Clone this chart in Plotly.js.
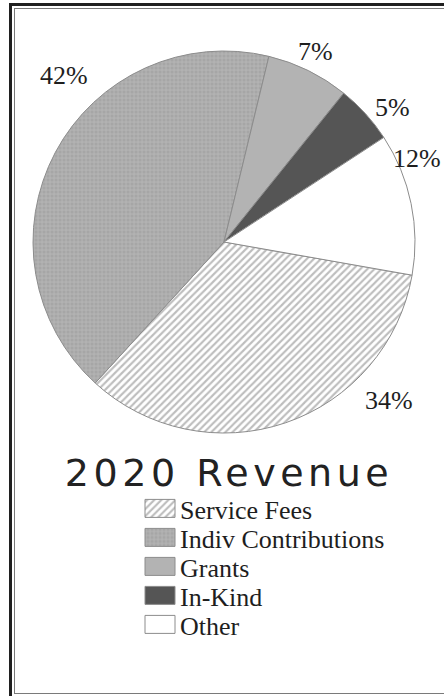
<!DOCTYPE html>
<html>
<head>
<meta charset="utf-8">
<script src="https://cdn.plot.ly/plotly-3.0.1.min.js"></script>
<style>
  html, body { margin: 0; padding: 0; background: #fff; overflow: hidden; }
  #wrap { position: relative; width: 444px; height: 696px; overflow: hidden; }
  #chart { width: 444px; height: 696px; }
  .gtitle { letter-spacing: 4.5px; }
  .frame { position: absolute; pointer-events: none; box-sizing: border-box; }
  #outer { left: 9px; top: 3px; width: 470px; height: 720px; border: 3px solid #202020; }
  #inner { left: 14px; top: 8px; width: 470px; height: 686px; border: 1.5px solid #7a7a7a; }
</style>
</head>
<body>
<div id="wrap">
  <div id="chart"></div>
  <div id="outer" class="frame"></div>
  <div id="inner" class="frame"></div>
</div>
<script>
// ---- data ----
const categories = ["Service Fees", "Indiv Contributions", "Grants", "In-Kind", "Other"];
const shares = [34, 42, 7, 5, 12];
const chartTitle = "2020 Revenue";

// ---- styles ----
const W = 444, H = 696;
const px = v => v / W;
const py = v => 1 - v / H;

const sliceColors = ["#ffffff", "#a6a6a6", "#b3b3b3", "#555555", "#ffffff"];
const patternShapes = ["/", "+", "", "", ""];
const patternFg = ["#7c7c7c", "#d2d2d2", "#b3b3b3", "#555555", "#ffffff"];

// pie geometry (pixels) and per-label placement style (clockwise angle nudge in deg, distance from centre in px)
const pieCx = 224, pieCy = 242, pieR = 191;
const startClockDeg = 100;
const labelNudgeDeg = [-27.3, 18, -0.6, 3.6, -10];
const labelDist = [229, 231, 211, 216, 226];

const trace = {
  type: "pie",
  labels: categories,
  values: shares,
  sort: false,
  direction: "clockwise",
  rotation: startClockDeg,
  domain: { x: [px(pieCx - pieR), px(pieCx + pieR)], y: [py(pieCy + pieR), py(pieCy - pieR)] },
  textinfo: "none",
  marker: {
    colors: sliceColors,
    line: { color: "#8c8c8c", width: 1 },
    pattern: {
      shape: patternShapes,
      fgcolor: patternFg,
      bgcolor: sliceColors,
      size: [5, 4, 8, 8, 8],
      solidity: [0.42, 0.3, 0.3, 0.3, 0.3],
      fillmode: "overlay"
    }
  },
  hoverinfo: "none"
};

// percentage labels placed around the pie from each slice's mid angle
const total = shares.reduce((a, b) => a + b, 0);
const labelFont = { family: "Liberation Serif, Times New Roman, serif", size: 26, color: "#1e1e1e" };
let acc = 0;
const annotations = shares.map((v, i) => {
  const midClock = startClockDeg + (acc + v / 2) / total * 360;
  acc += v;
  const a = (midClock + labelNudgeDeg[i]) * Math.PI / 180;
  let xPix = pieCx + labelDist[i] * Math.sin(a);
  const yPix = pieCy - labelDist[i] * Math.cos(a);
  let xanchor = "center";
  if (xPix + 24 > W - 1) { xPix = W - 1; xanchor = "right"; }
  return {
    text: Math.round(v / total * 100) + "%",
    x: px(xPix), y: py(yPix), xref: "paper", yref: "paper",
    xanchor: xanchor, yanchor: "middle", showarrow: false, font: labelFont
  };
});

const layout = {
  width: W, height: H,
  margin: { l: 0, r: 0, t: 0, b: 0 },
  paper_bgcolor: "#ffffff",
  showlegend: true,
  annotations: annotations,
  title: {
    text: chartTitle,
    font: { family: "DejaVu Sans, Verdana, sans-serif", size: 38, color: "#222222" },
    x: px(229), xanchor: "center",
    y: py(473), yanchor: "middle",
    xref: "container", yref: "container"
  },
  legend: {
    x: px(140), xanchor: "left",
    y: py(485), yanchor: "top",
    font: { family: "Liberation Serif, Times New Roman, serif", size: 26, color: "#1e1e1e" },
    bgcolor: "rgba(0,0,0,0)",
    itemclick: false, itemdoubleclick: false
  }
};

Plotly.newPlot("chart", [trace], layout, { staticPlot: true, displayModeBar: false }).then(gd => {
  // tighten legend rows and enlarge swatches to match the reference legend
  const items = gd.querySelectorAll(".legend .traces");
  const rowPitch = 29;
  let x0 = null, y0 = null;
  items.forEach((g, i) => {
    const m = /translate\(([-\d.]+),\s*([-\d.]+)\)/.exec(g.getAttribute("transform") || "");
    if (m && x0 === null) { x0 = parseFloat(m[1]); y0 = parseFloat(m[2]); }
    if (x0 !== null) g.setAttribute("transform", `translate(${x0},${y0 + i * rowPitch})`);
    g.querySelectorAll(".legendpoints path").forEach(p => {
      p.setAttribute("d", "M15,9H-15V-9H15Z");
    });
  });
});
</script>
</body>
</html>
